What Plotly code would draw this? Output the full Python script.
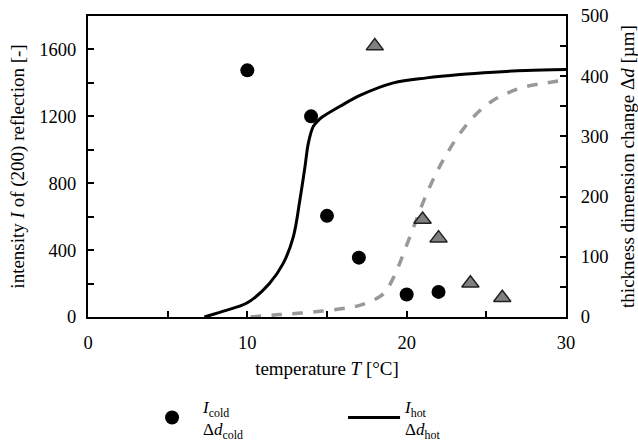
import plotly.graph_objects as go

# Data
T_cold_I = [10, 14, 15, 17, 20, 22]
I_cold = [1475, 1200, 605, 355, 135, 150]

T_cold_d = [18, 21, 22, 24, 26]
d_cold = [450, 162, 131, 56, 32]

T_hot_I = [7.3, 8.5, 10.0, 11.4, 12.26, 12.89, 13.3, 13.62, 13.83, 14.14, 14.5, 14.77,
           15.82, 17.07, 19.17, 21.26, 23.35, 25.44, 27.5, 30.0]
I_hot = [0, 35, 85, 202, 322, 481, 701, 900, 1040, 1140, 1180, 1200,
         1260, 1325, 1400, 1430, 1450, 1464, 1474, 1480]

T_hot_d = [10.2, 12, 14, 16, 17, 18, 18.6, 19.2, 20.2, 21.26, 22.3, 23.35, 24.4,
           25.44, 26.5, 27.5, 28.8, 30.0]
d_hot = [0, 4, 8, 14, 19, 29, 40, 67, 133, 205, 261, 305, 338,
         360, 374, 383, 389, 394]

FONT = "Liberation Serif"
TICKFONT = dict(family=FONT, size=18.5, color="black")
TITLEFONT = dict(family=FONT, size=19, color="black")

fig = go.Figure()
fig.add_trace(go.Scatter(
    x=T_hot_I, y=I_hot, mode="lines", line=dict(color="black", width=3, shape="spline"),
    name="<i>I</i><sub>hot</sub><br>Δ<i>d</i><sub>hot</sub>", yaxis="y", legendrank=2))
fig.add_trace(go.Scatter(
    x=T_hot_d, y=d_hot, mode="lines", line=dict(color="#999999", width=3.5, dash="dash", shape="spline"),
    name="dhot", yaxis="y2", showlegend=False))
fig.add_trace(go.Scatter(
    x=T_cold_I, y=I_cold, mode="markers", marker=dict(color="black", size=14, symbol="circle"),
    name="<i>I</i><sub>cold</sub><br>Δ<i>d</i><sub>cold</sub>", yaxis="y", legendrank=1))
fig.add_trace(go.Scatter(
    x=T_cold_d, y=d_cold, mode="markers",
    marker=dict(color="#808080", size=15, symbol="triangle-up", line=dict(color="#222222", width=1.5)),
    name="dcold", yaxis="y2", showlegend=False))

tick_common = dict(ticks="inside", ticklen=6, tickwidth=1.5, tickcolor="black")

fig.update_layout(
    width=638, height=443,
    margin=dict(l=88, r=72, t=16, b=126, autoexpand=False),
    paper_bgcolor="white", plot_bgcolor="white",
    font=dict(family=FONT, size=17, color="black"),
    xaxis=dict(
        range=[0, 30], dtick=10, showline=True, linecolor="black", linewidth=2, mirror=True,
        **tick_common, minor=dict(dtick=5, **tick_common),
        showgrid=False, zeroline=False, automargin=False, tickfont=TICKFONT,
        ticklabelstandoff=8,
        title=dict(text="temperature <i>T</i> [°C]", standoff=9, font=TITLEFONT),
    ),
    yaxis=dict(
        range=[0, 1800], tickvals=[0, 400, 800, 1200, 1600], showline=True, linecolor="black",
        linewidth=2, mirror=True,
        **tick_common, minor=dict(tickvals=[200, 600, 1000, 1400], **tick_common),
        showgrid=False, zeroline=False, automargin=False, tickfont=TICKFONT,
        ticklabelstandoff=6,
        title=dict(text="intensity <i>I</i> of (200) reflection [-]", standoff=10, font=TITLEFONT),
    ),
    yaxis2=dict(
        range=[0, 500], dtick=100, overlaying="y", side="right", showline=True, linecolor="black",
        linewidth=2, **tick_common, minor=dict(dtick=50, **tick_common),
        showgrid=False, zeroline=False, automargin=False, tickfont=TICKFONT,
        ticklabelstandoff=9,
        title=dict(text="thickness dimension change Δ<i>d</i> [µm]", standoff=14, font=TITLEFONT),
    ),
    legend=dict(
        orientation="h", x=0.111, y=-0.239, xanchor="left", yanchor="top",
        entrywidth=135, entrywidthmode="pixels", itemwidth=52, valign="middle",
        font=dict(family=FONT, size=17), bgcolor="rgba(0,0,0,0)",
    ),
)

fig.write_html("out.html", config={"displayModeBar": False},
               post_script="document.body.style.margin='0';")
